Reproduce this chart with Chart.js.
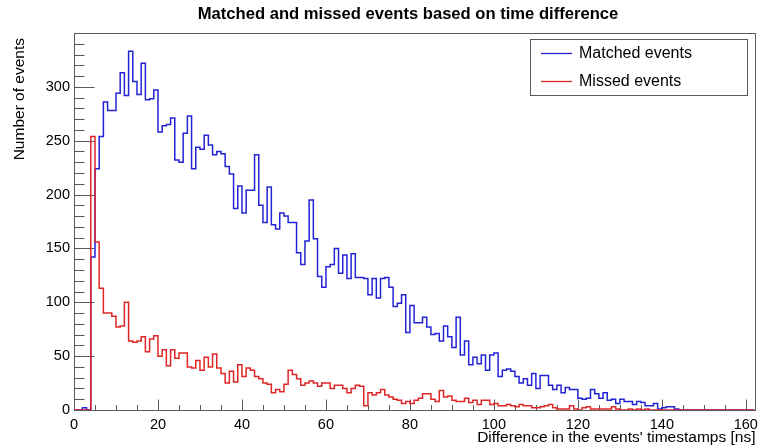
<!DOCTYPE html>
<html>
<head>
<meta charset="utf-8">
<title>Matched and missed events</title>
<script src="https://cdn.jsdelivr.net/npm/chart.js@4.4.0/dist/chart.umd.min.js"></script>
<style>
  html, body { margin: 0; padding: 0; background: #fff; }
  canvas { display: block; }
</style>
</head>
<body>
<canvas id="hist" width="764" height="448"></canvas>
<script>
// --- histogram contents: 1 ns bins starting at 0 ns ---
const binLow = 0;
const binWidth = 1;

// matched events per bin
const matched = [
  0, 0, 2, 0, 142, 224, 254, 286, 278, 278,
  294, 313, 292, 333, 305, 293, 322, 288, 289, 297,
  258, 264, 265, 271, 232, 230, 257, 273, 224, 244,
  242, 255, 246, 237, 240, 238, 226, 219, 187, 208,
  183, 204, 204, 237, 190, 174, 207, 172, 168, 183,
  180, 174, 174, 146, 135, 157, 195, 159, 124, 114,
  133, 135, 150, 127, 144, 122, 145, 123, 123, 122,
  107, 122, 104, 122, 123, 114, 96, 99, 107, 72,
  97, 81, 81, 86, 77, 70, 71, 64, 78, 68,
  58, 86, 51, 64, 42, 49, 43, 51, 37, 51,
  53, 31, 37, 38, 36, 31, 25, 29, 23, 34,
  20, 32, 32, 23, 19, 23, 16, 21, 19, 19,
  11, 10, 11, 19, 15, 11, 16, 9, 10, 6,
  10, 8, 8, 5, 8, 7, 4, 4, 6, 1,
  2, 3, 3, 1, 0, 0, 0, 0, 0, 0,
  0, 0, 0, 0, 0, 0, 0, 0, 0, 0,
  0, 0
];

// missed events per bin
const missed = [
  0, 0, 0, 0, 254, 156, 113, 90, 90, 87,
  77, 78, 100, 64, 63, 64, 68, 54, 66, 69,
  50, 56, 41, 56, 48, 53, 53, 40, 39, 46,
  37, 49, 40, 52, 39, 34, 25, 36, 26, 42,
  31, 39, 37, 31, 29, 25, 24, 16, 19, 17,
  24, 37, 33, 29, 23, 25, 27, 25, 22, 25,
  25, 20, 23, 23, 20, 16, 20, 23, 22, 4,
  16, 14, 16, 19, 14, 12, 10, 9, 6, 8,
  6, 9, 11, 15, 15, 10, 8, 18, 12, 13,
  9, 8, 8, 11, 7, 9, 5, 9, 9, 5,
  6, 4, 4, 5, 4, 3, 5, 4, 4, 2,
  2, 3, 4, 5, 2, 1, 1, 1, 4, 1,
  0, 2, 3, 1, 1, 1, 1, 1, 3, 1,
  0, 0, 1, 0, 1, 0, 1, 0, 0, 0,
  0, 0, 0, 0, 0, 0, 0, 0, 0, 0,
  0, 0, 0, 0, 0, 0, 0, 0, 0, 0,
  0, 0
];

const seriesNames = ['Matched events', 'Missed events'];
const seriesColors = ['#2323d6', '#df2626'];
const xTicks = [0, 20, 40, 60, 80, 100, 120, 140, 160];
const yTicks = [0, 50, 100, 150, 200, 250, 300];
const xMinorStep = 5;
const yMinorStep = 10;
const xMax = 162.3;
const yMax = 350;

const FONT = "'Liberation Sans', Arial, Helvetica, sans-serif";

// turn bin contents into step points (left edges + closing right edge)
function toSteps(counts) {
  const pts = counts.map((c, i) => ({ x: binLow + i * binWidth, y: c }));
  pts.push({ x: binLow + counts.length * binWidth, y: counts[counts.length - 1] });
  return pts;
}

// ROOT-like pad: frame, inward ticks, title, y title and legend box
const rootFrame = {
  id: 'rootFrame',
  beforeDatasetsDraw(chart) {
    const { ctx, chartArea: a, scales } = chart;
    ctx.save();
    ctx.strokeStyle = '#5a5a5a';
    ctx.lineWidth = 1;
    ctx.strokeRect(Math.round(a.left) + 0.5, Math.round(a.top) + 0.5,
      Math.round(a.right - a.left), Math.round(a.bottom - a.top));

    ctx.beginPath();
    const y0 = Math.round(a.bottom) + 0.5;
    for (let v = 0; v <= xMax; v += xMinorStep) {
      const px = Math.round(scales.x.getPixelForValue(v)) + 0.5;
      const len = xTicks.includes(v) ? 11 : 5.5;
      ctx.moveTo(px, y0);
      ctx.lineTo(px, y0 - len);
    }
    const x0 = Math.round(a.left) + 0.5;
    for (let v = 0; v <= yMax; v += yMinorStep) {
      const py = Math.round(scales.y.getPixelForValue(v)) + 0.5;
      const len = yTicks.includes(v) ? 20 : 10;
      ctx.moveTo(x0, py);
      ctx.lineTo(x0 + len, py);
    }
    ctx.stroke();

    // histogram title
    ctx.fillStyle = '#000';
    ctx.font = 'bold 16.6px ' + FONT;
    ctx.textAlign = 'center';
    ctx.textBaseline = 'middle';
    ctx.fillText('Matched and missed events based on time difference', 408, 14);

    // y axis title, right-aligned to the top of the axis
    ctx.save();
    ctx.translate(20, a.top + 5);
    ctx.rotate(-Math.PI / 2);
    ctx.font = '15.5px ' + FONT;
    ctx.textAlign = 'right';
    ctx.fillText('Number of events', 0, 0);
    ctx.restore();
    ctx.restore();
  },
  afterDraw(chart) {
    const { ctx } = chart;
    const box = { left: 530, top: 39, right: 747, bottom: 95 };
    ctx.save();
    ctx.fillStyle = '#fff';
    ctx.fillRect(box.left, box.top, box.right - box.left, box.bottom - box.top);
    ctx.strokeStyle = '#5a5a5a';
    ctx.lineWidth = 1;
    ctx.strokeRect(box.left + 0.5, box.top + 0.5, box.right - box.left, box.bottom - box.top);

    ctx.font = '16px ' + FONT;
    ctx.textBaseline = 'middle';
    ctx.textAlign = 'left';
    const rows = [53, 81];
    seriesNames.forEach((name, i) => {
      ctx.strokeStyle = seriesColors[i];
      ctx.lineWidth = 1.3;
      ctx.beginPath();
      ctx.moveTo(541, rows[i] + 0.5);
      ctx.lineTo(572, rows[i] + 0.5);
      ctx.stroke();
      ctx.fillStyle = '#000';
      ctx.fillText(name, 579, rows[i] + 1);
    });
    ctx.restore();
  }
};

new Chart(document.getElementById('hist'), {
  type: 'line',
  data: {
    datasets: [
      {
        label: seriesNames[0],
        data: toSteps(matched),
        borderColor: seriesColors[0],
        borderWidth: 1.5,
        stepped: 'before',
        pointRadius: 0,
        fill: false,
        order: 1
      },
      {
        label: seriesNames[1],
        data: toSteps(missed),
        borderColor: seriesColors[1],
        borderWidth: 1.5,
        stepped: 'before',
        pointRadius: 0,
        fill: false,
        order: 0
      }
    ]
  },
  options: {
    responsive: false,
    animation: false,
    events: [],
    layout: { padding: { top: 33, right: 5 } },
    plugins: {
      legend: { display: false },
      tooltip: { enabled: false },
      title: { display: false }
    },
    scales: {
      x: {
        type: 'linear',
        min: 0,
        max: xMax,
        grid: { display: false, drawTicks: false },
        border: { display: false },
        ticks: {
          color: '#000',
          font: { family: FONT, size: 14.5 },
          padding: 6,
          maxRotation: 0,
          autoSkip: false
        },
        afterBuildTicks: s => { s.ticks = xTicks.map(v => ({ value: v })); },
        afterFit: s => { s.height = 38; },
        title: {
          display: true,
          text: "Difference in the events' timestamps [ns]",
          align: 'end',
          color: '#000',
          font: { family: FONT, size: 15.5 },
          padding: { top: 0, bottom: 1 }
        }
      },
      y: {
        type: 'linear',
        min: 0,
        max: yMax,
        grid: { display: false, drawTicks: false },
        border: { display: false },
        ticks: {
          color: '#000',
          font: { family: FONT, size: 14.5 },
          padding: 4
        },
        afterBuildTicks: s => { s.ticks = yTicks.map(v => ({ value: v })); },
        afterFit: s => { s.width = 74; }
      }
    }
  },
  plugins: [rootFrame]
});
</script>
</body>
</html>
